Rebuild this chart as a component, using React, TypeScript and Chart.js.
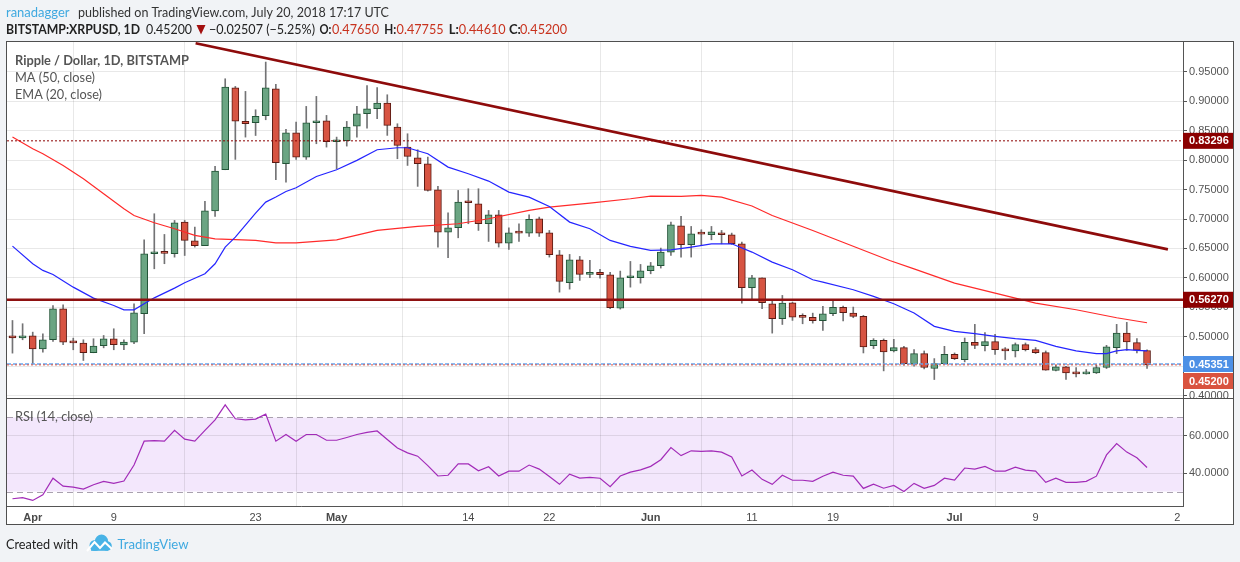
import React, { useEffect, useRef } from 'react';
import { Chart, registerables } from 'chart.js';

Chart.register(...registerables);

// ---------- DATA (daily candles, 2018-03-30 .. 2018-07-20, index = day number) ----------
const FIRST_DAY = '2018-03-30';
const OPEN = [
  0.5015, 0.4980, 0.5015, 0.4790, 0.4947, 0.5474, 0.4910, 0.4890, 0.4726, 0.4845,
  0.4964, 0.4860, 0.4907, 0.5389, 0.6409, 0.6426, 0.6409, 0.6948, 0.6630, 0.6545,
  0.7140, 0.7838, 0.9232, 0.8660, 0.8637, 0.8756, 0.9215, 0.7940, 0.8467, 0.8053,
  0.8637, 0.8671, 0.8314, 0.8331, 0.8580, 0.8790, 0.8875, 0.8972, 0.8563, 0.8223,
  0.8042, 0.7940, 0.7498, 0.6778, 0.6851, 0.7288, 0.7260, 0.6920, 0.7073, 0.6590,
  0.6766, 0.6761, 0.7005, 0.6766, 0.6392, 0.5916, 0.6307, 0.6058, 0.6092, 0.6052,
  0.5486, 0.6001, 0.6001, 0.6120, 0.6205, 0.6438, 0.6885, 0.6562, 0.6749, 0.6732,
  0.6766, 0.6732, 0.6579, 0.5831, 0.6001, 0.5559, 0.5304, 0.5576, 0.5333, 0.5330,
  0.5271, 0.5390, 0.5497, 0.5401, 0.5345, 0.4847, 0.4938, 0.4757, 0.4814, 0.4531,
  0.4712, 0.4458, 0.4542, 0.4700, 0.4610, 0.4904, 0.4847, 0.4915, 0.4780, 0.4757,
  0.4864, 0.4780, 0.4729, 0.4424, 0.4486, 0.4384, 0.4367, 0.4384, 0.4475, 0.4814,
  0.5062, 0.4898, 0.4765,
];
const HIGH = [
  0.5275, 0.5220, 0.5077, 0.5050, 0.5530, 0.5540, 0.4975, 0.4947, 0.4964, 0.5020,
  0.5134, 0.4947, 0.5560, 0.6647, 0.7090, 0.6738, 0.6976, 0.6976, 0.6863, 0.7300,
  0.7895, 0.9385, 0.9255, 0.9170, 0.8858, 0.9669, 0.9289, 0.8524, 0.8649, 0.8915,
  0.9085, 0.8762, 0.8393, 0.8660, 0.8915, 0.9270, 0.9233, 0.9113, 0.8620, 0.8450,
  0.8178, 0.8053, 0.7554, 0.7107, 0.7486, 0.7515, 0.7515, 0.7146, 0.7146, 0.6851,
  0.6920, 0.7073, 0.7033, 0.6806, 0.6466, 0.6398, 0.6364, 0.6296, 0.6143, 0.6092,
  0.6115, 0.6279, 0.6228, 0.6262, 0.6506, 0.6948, 0.7044, 0.6874, 0.6817, 0.6874,
  0.6806, 0.6761, 0.6607, 0.6041, 0.6001, 0.5627, 0.5701, 0.5587, 0.5389, 0.5400,
  0.5514, 0.5627, 0.5520, 0.5503, 0.5362, 0.4966, 0.4961, 0.4955, 0.4836, 0.4780,
  0.4757, 0.4627, 0.4836, 0.4723, 0.4977, 0.5209, 0.5068, 0.5040, 0.4814, 0.4893,
  0.4893, 0.4814, 0.4757, 0.4514, 0.4497, 0.4475, 0.4441, 0.4514, 0.4853, 0.5209,
  0.5243, 0.4966, 0.47755,
];
const LOW = [
  0.4720, 0.4947, 0.4539, 0.4737, 0.4918, 0.4862, 0.4777, 0.4595, 0.4726, 0.4810,
  0.4777, 0.4777, 0.4879, 0.5049, 0.6154, 0.6240, 0.6352, 0.6380, 0.6523, 0.6545,
  0.7044, 0.7838, 0.8014, 0.8393, 0.8420, 0.8688, 0.7668, 0.7628, 0.8014, 0.8014,
  0.8280, 0.8223, 0.7855, 0.8240, 0.8393, 0.8546, 0.8705, 0.8422, 0.8025, 0.7911,
  0.7555, 0.7475, 0.6523, 0.6341, 0.6681, 0.6920, 0.6806, 0.6619, 0.6523, 0.6483,
  0.6619, 0.6704, 0.6704, 0.6353, 0.5757, 0.5808, 0.5956, 0.6001, 0.5996, 0.5474,
  0.5468, 0.5842, 0.5910, 0.6069, 0.6166, 0.6381, 0.6353, 0.6353, 0.6562, 0.6647,
  0.6579, 0.6568, 0.5570, 0.5627, 0.5474, 0.5060, 0.5207, 0.5276, 0.5219, 0.5230,
  0.5107, 0.5356, 0.5266, 0.5322, 0.4723, 0.4797, 0.4418, 0.4740, 0.4514, 0.4497,
  0.4452, 0.4271, 0.4542, 0.4610, 0.4571, 0.4797, 0.4757, 0.4700, 0.4610, 0.4655,
  0.4757, 0.4712, 0.4429, 0.4418, 0.4271, 0.4316, 0.4362, 0.4373, 0.4458, 0.4712,
  0.4768, 0.4723, 0.4461,
];
const CLOSE = [
  0.4980, 0.5015, 0.4790, 0.4947, 0.5474, 0.4907, 0.4895, 0.4726, 0.4840, 0.4964,
  0.4862, 0.4907, 0.5406, 0.6409, 0.6426, 0.6415, 0.6936, 0.6636, 0.6545, 0.7140,
  0.7815, 0.9244, 0.8666, 0.8620, 0.8745, 0.9232, 0.7957, 0.8467, 0.8053, 0.8637,
  0.8671, 0.8314, 0.8348, 0.8563, 0.8790, 0.8875, 0.8972, 0.8592, 0.8252, 0.8065,
  0.7940, 0.7486, 0.6778, 0.6851, 0.7288, 0.7277, 0.6920, 0.7073, 0.6590, 0.6766,
  0.6760, 0.6993, 0.6761, 0.6392, 0.5939, 0.6307, 0.6058, 0.6092, 0.6052, 0.5491,
  0.6001, 0.6006, 0.6120, 0.6205, 0.6438, 0.6902, 0.6562, 0.6749, 0.6744, 0.6783,
  0.6732, 0.6579, 0.5831, 0.6001, 0.5576, 0.5304, 0.5570, 0.5332, 0.5327, 0.5270,
  0.5390, 0.5497, 0.5407, 0.5345, 0.4825, 0.4938, 0.4740, 0.4814, 0.4542, 0.4712,
  0.4475, 0.4542, 0.4700, 0.4627, 0.4904, 0.4853, 0.4915, 0.4780, 0.4757, 0.4864,
  0.4780, 0.4729, 0.4429, 0.4486, 0.4384, 0.4367, 0.4390, 0.4475, 0.4825, 0.5062,
  0.4910, 0.47707, 0.4520,
];

// MA(50, close): [day index, value]
const MA50: [number, number][] = [
  [0, 0.8393], [2, 0.8195], [3, 0.811], [5, 0.7912], [7, 0.7685], [9, 0.743], [11, 0.7175],
  [12, 0.7061], [14, 0.6937], [16, 0.6834], [18, 0.6721], [20, 0.6664], [24, 0.6636],
  [26, 0.6596], [28, 0.6596], [32, 0.6647], [36, 0.6806], [40, 0.6875], [44, 0.692],
  [47, 0.7005], [51, 0.7146], [53, 0.7203], [57, 0.7271], [61, 0.7345], [63, 0.739],
  [66, 0.7384], [68, 0.7401], [70, 0.7373], [73, 0.7221], [75, 0.7061], [79, 0.6806],
  [86.6, 0.6294], [89, 0.6153], [93, 0.591], [97, 0.574], [101, 0.557], [105, 0.5458],
  [109, 0.5322], [112, 0.5237],
];
// EMA(20, close)
const EMA20: [number, number][] = [
  [0, 0.654], [2, 0.624], [3, 0.6126], [4, 0.6058], [6, 0.5842], [8, 0.5655], [10, 0.553],
  [11, 0.5457], [12, 0.5457], [13, 0.556], [14, 0.566], [16, 0.5825], [17, 0.5916],
  [19, 0.6069], [20, 0.6239], [21, 0.6523], [22, 0.6693], [24, 0.7101], [25, 0.7288],
  [26, 0.7373], [27, 0.7469], [28, 0.7532], [30, 0.7724], [32, 0.7838], [34, 0.7997],
  [36, 0.8178], [38, 0.8212], [39, 0.8212], [41, 0.811], [43, 0.7883], [45, 0.777],
  [47, 0.7645], [49, 0.7458], [51, 0.7373], [53, 0.7214], [55, 0.6948], [57, 0.6834],
  [59, 0.6636], [61, 0.6534], [63, 0.6466], [65, 0.6477], [67, 0.6523], [69, 0.6579],
  [71, 0.6579], [73, 0.6438], [75, 0.6268], [77, 0.6137], [79, 0.5967], [80, 0.5927],
  [83, 0.5797], [85, 0.5684], [87, 0.5559], [89, 0.5401], [91, 0.5175], [93, 0.509],
  [95, 0.5051], [97, 0.5006], [99, 0.4966], [101, 0.4938], [103, 0.4836], [105, 0.4757],
  [107, 0.4712], [108, 0.4712], [109, 0.4757], [110, 0.478], [111, 0.4768], [112, 0.4757],
];
// RSI(14, close), one value per candle
const RSI14 = [
  26.1, 26.7, 25.2, 28.3, 37.2, 32.9, 32.4, 31.3, 33.7, 35.5,
  34.4, 35.7, 44.3, 57.2, 57.5, 57.2, 63.0, 58.3, 57.2, 63.0,
  68.7, 76.8, 69.3, 68.7, 69.1, 71.8, 57.2, 60.8, 57.2, 60.8,
  60.8, 57.7, 57.7, 59.2, 60.8, 61.9, 62.7, 58.1, 53.5, 50.9,
  49.1, 44.0, 38.4, 38.8, 44.9, 44.9, 41.2, 43.4, 38.4, 41.0,
  41.0, 44.3, 42.1, 38.1, 33.9, 39.4, 37.3, 37.7, 37.2, 32.6,
  38.4, 40.5, 41.7, 43.6, 47.2, 53.7, 49.4, 52.0, 51.7, 52.0,
  51.3, 48.7, 38.4, 41.6, 36.6, 33.9, 38.8, 36.1, 36.1, 35.5,
  38.3, 40.5, 38.8, 38.3, 31.7, 34.0, 31.8, 33.3, 30.0, 34.4,
  31.7, 33.3, 37.2, 36.2, 42.7, 42.1, 43.6, 41.0, 41.0, 43.2,
  41.6, 41.0, 35.0, 37.2, 35.0, 35.0, 35.5, 38.3, 49.8, 55.9,
  51.3, 48.2, 43.0,
];

// Drawn levels / trend line
const TREND_LINE: [number, number][] = [[18.08, 0.9988], [114.06, 0.6485]];
const RESISTANCE = 0.5627;
const PREV_LEVEL = 0.83296;
const BLUE_LEVEL = 0.45351;
const LAST_CLOSE = 0.452;
const RSI_UPPER = 70;
const RSI_LOWER = 30;

// Axes
const X_TICKS = [2, 10, 24, 32, 45, 53, 63, 73, 81, 93, 101, 115];
const X_TICK_LABELS = ['Apr', '9', '23', 'May', '14', '22', 'Jun', '11', '19', 'Jul', '9', '2'];
const MONTH_LABELS = ['Apr', 'May', 'Jun', 'Jul'];
const PRICE_TICKS = [0.4, 0.45, 0.5, 0.55, 0.6, 0.65, 0.7, 0.75, 0.8, 0.85, 0.9, 0.95];
const RSI_TICKS = [40, 60];
const X_RANGE = [-0.54, 115.55];
const PRICE_RANGE = [0.3957, 1.001];
const RSI_RANGE = [22.2, 80.5];

// Texts
const AUTHOR = 'ranadagger';
const PUBLISHED = 'published on TradingView.com, July 20, 2018 17:17 UTC';
const SYMBOL = 'BITSTAMP:XRPUSD, 1D';
const CHANGE_TEXT = '\u22120.02507 (\u22125.25%)';
const TITLE = 'Ripple / Dollar, 1D, BITSTAMP';
const MA_LABEL = 'MA (50, close)';
const EMA_LABEL = 'EMA (20, close)';
const RSI_LABEL = 'RSI (14, close)';

// ---------- STYLE ----------
const W = 1240;
const H = 562;
const UP = '#6BA583';
const UP_B = '#225437';
const DOWN = '#D75442';
const DOWN_B = '#5B1A13';
const WICK = '#737375';
const GRID = 'rgba(0,0,0,0.09)';
const AXIS = '#555555';
const TXT_FONT = 'Lato, "Open Sans", sans-serif';
const TICK_FONT = '"Liberation Sans", Arial, sans-serif';

const decor = {
  id: 'decor',
  beforeDraw(chart: any) {
    const { ctx, chartArea: a, scales } = chart;
    ctx.save();
    ctx.fillStyle = '#F1F3F6';
    ctx.fillRect(0, 0, W, H);
    ctx.fillStyle = '#FFFFFF';
    ctx.fillRect(6, 41, 1228, 484);
    const yr = scales.yR;
    const t = yr.getPixelForValue(RSI_UPPER);
    const b = yr.getPixelForValue(RSI_LOWER);
    ctx.fillStyle = '#F3E7FC';
    ctx.fillRect(a.left, t, a.right - a.left, b - t);
    ctx.restore();
  },
  beforeDatasetsDraw(chart: any) {
    const { ctx, chartArea: a, scales } = chart;
    const yr = scales.yR;
    ctx.save();
    ctx.strokeStyle = '#A9A1AE';
    ctx.lineWidth = 1;
    ctx.setLineDash([6, 4]);
    for (const v of [RSI_UPPER, RSI_LOWER]) {
      const y = Math.round(yr.getPixelForValue(v)) + 0.5;
      ctx.beginPath();
      ctx.moveTo(a.left, y);
      ctx.lineTo(a.right, y);
      ctx.stroke();
    }
    ctx.restore();
  },
  afterDatasetsDraw(chart: any) {
    const { ctx, chartArea: a, scales } = chart;
    const y = scales.y;
    const hline = (v: number, color: string, lw: number, dash: number[]) => {
      const py = y.getPixelForValue(v);
      ctx.save();
      ctx.strokeStyle = color;
      ctx.lineWidth = lw;
      ctx.setLineDash(dash);
      ctx.beginPath();
      ctx.moveTo(a.left, py);
      ctx.lineTo(a.right, py);
      ctx.stroke();
      ctx.restore();
    };
    hline(PREV_LEVEL, '#8B0000', 1, [2, 2]);
    hline(RESISTANCE, '#8E1010', 2.5, []);
    hline(BLUE_LEVEL, '#6AA4EC', 1.5, [4, 2]);
    hline(LAST_CLOSE, '#E0533F', 1, [2, 2]);
  },
  afterDraw(chart: any) {
    const { ctx, chartArea: a, scales } = chart;
    ctx.save();
    // frame + pane separator
    ctx.strokeStyle = '#4F4F4F';
    ctx.lineWidth = 1;
    ctx.strokeRect(6.5, 41.5, 1227, 483);
    const sep = Math.round(scales.y.bottom) + 0.5;
    ctx.beginPath();
    ctx.moveTo(6, sep);
    ctx.lineTo(1234, sep);
    ctx.stroke();

    // price labels on the axis
    const boxes = [
      { v: PREV_LEVEL, bg: '#8B0000' },
      { v: RESISTANCE, bg: '#8B0000' },
      { v: BLUE_LEVEL, bg: '#4D90E6' },
      { v: LAST_CLOSE, bg: '#D9533F' },
    ].map((o) => ({ ...o, py: scales.y.getPixelForValue(o.v) }))
      .sort((p, q) => p.py - q.py);
    const bh = 16;
    let prevBottom = -Infinity;
    ctx.font = `bold 11px ${TICK_FONT}`;
    ctx.textBaseline = 'middle';
    ctx.textAlign = 'left';
    for (const bx of boxes) {
      let top = bx.py - bh / 2;
      if (top < prevBottom + 1) top = prevBottom + 1;
      ctx.fillStyle = bx.bg;
      ctx.fillRect(a.right, top, 50, bh);
      ctx.fillStyle = '#FFFFFF';
      ctx.fillText(bx.v.toFixed(5), a.right + 6, top + bh / 2 + 0.5);
      prevBottom = top + bh;
    }

    // header
    ctx.textBaseline = 'middle';
    ctx.font = `13px ${TXT_FONT}`;
    ctx.fillStyle = '#3FA9E0';
    ctx.fillText(AUTHOR, 6, 12.5, 67);
    ctx.fillStyle = '#333333';
    ctx.fillText(PUBLISHED, 78, 12.5, 311);

    const last = OPEN.length - 1;
    const y2 = 30;
    ctx.font = `bold 13px ${TXT_FONT}`;
    ctx.fillStyle = '#222222';
    ctx.fillText(SYMBOL, 6, y2, 134);
    ctx.font = `13px ${TXT_FONT}`;
    ctx.fillText(CLOSE[last].toFixed(5), 146, y2, 46);
    ctx.fillStyle = '#A30F0F';
    ctx.beginPath();
    ctx.moveTo(196.5, 25);
    ctx.lineTo(205.5, 25);
    ctx.lineTo(201, 34.5);
    ctx.closePath();
    ctx.fill();
    ctx.fillStyle = '#222222';
    ctx.fillText(CHANGE_TEXT, 209, y2, 106);
    const ohlc: [string, number, number, number][] = [
      ['O:', OPEN[last], 319.5, 332],
      ['H:', HIGH[last], 384.3, 396.6],
      ['L:', LOW[last], 448.8, 458.7],
      ['C:', CLOSE[last], 509, 520],
    ];
    for (const [k, v, kx, vx] of ohlc) {
      ctx.font = `bold 13px ${TXT_FONT}`;
      ctx.fillStyle = '#222222';
      ctx.fillText(k, kx, y2, 12);
      ctx.font = `13px ${TXT_FONT}`;
      ctx.fillStyle = '#C8321E';
      ctx.fillText(v.toFixed(5), vx, y2, 47);
    }

    // pane legends
    ctx.fillStyle = '#555555';
    ctx.font = `bold 13px ${TXT_FONT}`;
    ctx.fillText(TITLE, 15, 60.5, 174);
    ctx.font = `13px ${TXT_FONT}`;
    ctx.fillText(MA_LABEL, 15, 78.3, 80);
    ctx.fillText(EMA_LABEL, 15, 95.3, 87);
    ctx.fillText(RSI_LABEL, 15, 417.3, 78);

    // footer
    ctx.font = `14px ${TXT_FONT}`;
    ctx.fillStyle = '#222222';
    ctx.fillText('Created with', 6, 544.5, 72);
    // logo (cloud with a chart line)
    ctx.fillStyle = '#48B3E6';
    ctx.beginPath();
    ctx.arc(95, 545.5, 5.5, 0, Math.PI * 2);
    ctx.arc(101.5, 541, 6.5, 0, Math.PI * 2);
    ctx.arc(107, 546, 4.8, 0, Math.PI * 2);
    ctx.fill();
    ctx.fillRect(91, 545, 17, 5.8);
    ctx.strokeStyle = '#FFFFFF';
    ctx.lineWidth = 2;
    ctx.beginPath();
    ctx.moveTo(87, 551);
    ctx.lineTo(94.5, 542);
    ctx.lineTo(100, 548);
    ctx.lineTo(105, 542.5);
    ctx.lineTo(112, 549);
    ctx.stroke();
    ctx.font = `14px ${TXT_FONT}`;
    ctx.fillStyle = '#3FA9E0';
    ctx.fillText('TradingView', 117.5, 544.5, 71);
    ctx.restore();
  },
};

export default function App() {
  const ref = useRef<HTMLCanvasElement | null>(null);
  useEffect(() => {
    const canvas = ref.current;
    if (!canvas) return;
    const up = CLOSE.map((c, i) => c >= OPEN[i]);
    const chart = new Chart(canvas, {
      type: 'bar',
      data: {
        datasets: [
          {
            type: 'bar',
            label: 'wick',
            data: OPEN.map((_, i) => ({ x: i, y: [LOW[i], HIGH[i]] })) as any,
            backgroundColor: WICK,
            barThickness: 1,
            grouped: false,
            order: 6,
            yAxisID: 'y',
          },
          {
            type: 'bar',
            label: 'body',
            data: OPEN.map((o, i) => ({ x: i, y: [o, CLOSE[i]] })) as any,
            backgroundColor: up.map((u) => (u ? UP : DOWN)),
            borderColor: up.map((u) => (u ? UP_B : DOWN_B)),
            borderWidth: 1,
            borderSkipped: false,
            barThickness: 7,
            minBarLength: 2,
            grouped: false,
            order: 5,
            yAxisID: 'y',
          },
          {
            type: 'line',
            label: 'MA50',
            data: MA50.map(([x, v]) => ({ x, y: v })),
            borderColor: '#FF2A2A',
            borderWidth: 1.2,
            pointRadius: 0,
            order: 4,
            yAxisID: 'y',
          },
          {
            type: 'line',
            label: 'EMA20',
            data: EMA20.map(([x, v]) => ({ x, y: v })),
            borderColor: '#2525FF',
            borderWidth: 1.2,
            pointRadius: 0,
            order: 3,
            yAxisID: 'y',
          },
          {
            type: 'line',
            label: 'trend',
            data: TREND_LINE.map(([x, v]) => ({ x, y: v })),
            borderColor: '#8E0B0B',
            borderWidth: 2.7,
            pointRadius: 0,
            order: 2,
            yAxisID: 'y',
          },
          {
            type: 'line',
            label: 'RSI',
            data: RSI14.map((v, i) => ({ x: i, y: v })),
            borderColor: '#A22BB8',
            borderWidth: 1.2,
            pointRadius: 0,
            order: 1,
            yAxisID: 'yR',
          },
        ] as any,
      },
      options: {
        animation: false,
        responsive: false,
        events: [],
        layout: { padding: { left: 7, top: 42, right: 6, bottom: 37 } },
        plugins: { legend: { display: false }, tooltip: { enabled: false } },
        scales: {
          x: {
            type: 'linear',
            min: X_RANGE[0],
            max: X_RANGE[1],
            offset: false,
            afterBuildTicks: (s: any) => {
              s.ticks = X_TICKS.map((v) => ({ value: v }));
            },
            afterFit: (s: any) => {
              s.height = 19;
            },
            ticks: {
              autoSkip: false,
              maxRotation: 0,
              padding: 5,
              color: '#4A4A4A',
              font: (c: any) => ({
                family: TICK_FONT,
                size: 11,
                weight: MONTH_LABELS.includes(X_TICK_LABELS[c.index]) ? 'bold' : 'normal',
              }),
              callback: (_v: any, i: number) => X_TICK_LABELS[i],
            },
            grid: {
              color: (c: any) => (c.index === X_TICKS.length - 1 ? 'rgba(0,0,0,0)' : GRID),
              drawTicks: false,
            },
            border: { color: AXIS },
          },
          y: {
            type: 'linear',
            position: 'right',
            stack: 'panes',
            stackWeight: 356,
            min: PRICE_RANGE[0],
            max: PRICE_RANGE[1],
            afterBuildTicks: (s: any) => {
              s.ticks = PRICE_TICKS.map((v) => ({ value: v }));
            },
            afterFit: (s: any) => {
              s.width = 51;
            },
            ticks: {
              padding: 2,
              color: '#555555',
              font: { family: TICK_FONT, size: 11 },
              callback: (v: any) => Number(v).toFixed(5),
            },
            grid: { color: GRID, tickLength: 4, tickColor: AXIS },
            border: { color: AXIS },
          },
          yR: {
            type: 'linear',
            position: 'right',
            stack: 'panes',
            stackWeight: 108,
            min: RSI_RANGE[0],
            max: RSI_RANGE[1],
            afterBuildTicks: (s: any) => {
              s.ticks = RSI_TICKS.map((v) => ({ value: v }));
            },
            afterFit: (s: any) => {
              s.width = 51;
            },
            ticks: {
              padding: 2,
              color: '#555555',
              font: { family: TICK_FONT, size: 11 },
              callback: (v: any) => Number(v).toFixed(4),
            },
            grid: { color: GRID, tickLength: 4, tickColor: AXIS },
            border: { color: AXIS },
          },
        },
      } as any,
      plugins: [decor],
    });
    return () => chart.destroy();
  }, []);
  return (
    <div style={{ position: 'absolute', left: 0, top: 0, width: W, height: H }} data-start={FIRST_DAY}>
      <canvas ref={ref} width={W} height={H} style={{ display: 'block', width: W, height: H }} />
    </div>
  );
}
